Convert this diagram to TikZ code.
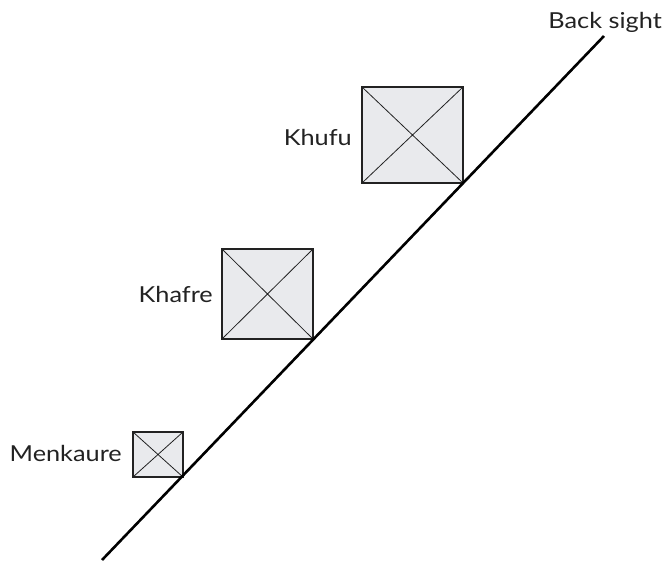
\documentclass[tikz,border=0pt]{standalone}
\usepackage{fontspec}
\setmainfont{Lato}[FakeStretch=1.15]
\definecolor{boxfill}{HTML}{E9EAED}
\definecolor{ink}{HTML}{222222}
\begin{document}
\begin{tikzpicture}[x=1pt,y=-1pt,
  pyr/.style={draw=ink,line width=1.3pt,fill=boxfill},
  diag/.style={draw=ink,line width=0.8pt},
  sight/.style={draw=black,line width=2.6pt},
  lbl/.style={font=\fontsize{22}{26}\selectfont,text=ink,inner sep=0pt,anchor=base east}]
\useasboundingbox (0,0) rectangle (665,563);
% pyramids
\coordinate (kuA) at (362,87); \coordinate (kuB) at (463,183);
\coordinate (kaA) at (222,249); \coordinate (kaB) at (313,339);
\coordinate (meA) at (133,432); \coordinate (meB) at (183,477);
\path[pyr] (kuA) rectangle (kuB);
\draw[diag] (kuA) -- (kuB) (kuA -| kuB) -- (kuA |- kuB);
\path[pyr] (kaA) rectangle (kaB);
\draw[diag] (kaA) -- (kaB) (kaA -| kaB) -- (kaA |- kaB);
\path[pyr] (meA) rectangle (meB);
\draw[diag] (meA) -- (meB) (meA -| meB) -- (meA |- meB);
% sight line
\coordinate (s0) at (102,560);
\coordinate (s1) at (604,36);
\draw[sight] (s0) -- (s1);
% labels
\node[lbl] (khufu) at (352,145) {Khufu};
\node[lbl] (khafre) at (213,302) {Khafre};
\node[lbl] (menkaure) at (122,461) {Menkaure};
\node[lbl] (back) at (662,28) {Back sight};
\end{tikzpicture}
\end{document}
